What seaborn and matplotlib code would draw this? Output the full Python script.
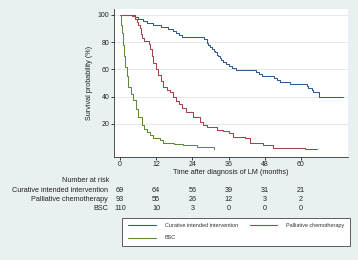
import pandas as pd
import matplotlib.pyplot as plt
import seaborn as sns
from matplotlib.lines import Line2D
from matplotlib.transforms import blended_transform_factory

# Kaplan-Meier steps (months, survival %)
cur_t = [0, 5, 6, 7.5, 9, 11, 13.5, 16, 17.5, 18.5, 19.5, 20.5, 28, 28.8, 29.3, 29.8,
         30.5, 31, 31.5, 32, 32.5, 33, 33.5, 34, 35, 36, 37, 38.5, 45, 46, 47, 51, 52,
         53, 56.5, 62, 62.5, 63.5, 64, 66, 74]
cur_s = [100, 98.6, 97.1, 95.7, 94.2, 92.8, 91.3, 89.9, 88.4, 87, 85.5, 84.1, 82.6,
         79.7, 78.3, 76.8, 75.4, 73.9, 72.5, 71, 69.6, 68.1, 66.7, 65.2, 63.8, 62.3,
         60.9, 59.4, 58, 56.5, 55.1, 53.6, 52.2, 50.7, 49.3, 47.8, 46.4, 44.9, 43.5,
         39.5, 39.5]

pal_t = [0, 4, 5, 5.5, 6, 6.6, 7, 7.3, 8, 9.5, 10, 10.5, 11, 11.8, 12.5, 13.5, 14.4,
         15.5, 16.6, 17.7, 18.5, 19.5, 20.5, 22, 24.3, 26.5, 27.6, 29, 32, 34, 36,
         37.6, 41.4, 43.1, 47.5, 50.8, 61.3, 65.2]
pal_s = [100, 98.9, 96.8, 94.6, 92.5, 90.3, 86, 82.8, 80.6, 78.5, 75.3, 70, 64.5, 60,
         56, 51.6, 47.3, 45, 43.5, 40, 37, 34.5, 32, 29, 25.4, 21.7, 19.3, 18, 15.6,
         14.9, 13.1, 10.7, 9.5, 6.3, 4.6, 2.6, 1.4, 1.4]

bsc_t = [0, 0.3, 0.6, 1, 1.3, 1.7, 2.2, 2.8, 3.5, 4.4, 5.2, 6.1, 7.2, 8, 8.8, 9.8, 11,
         13.3, 14.4, 18, 21, 25.5, 31, 31.2]
bsc_s = [100, 93, 86.5, 78, 70, 62, 55, 47.4, 42, 37.6, 31, 25.4, 19.3, 16.5, 14.4,
         12, 9.5, 8.3, 6.3, 5.5, 4.6, 3.3, 1.8, 1.8]

groups = ['Curative intended intervention', 'Palliative chemotherapy', 'BSC']
colors = ['#2f5c8c', '#a3444b', '#5f8a38']

risk_times = [0, 12, 24, 36, 48, 60]
risk_cur = [69, 64, 56, 39, 31, 21]
risk_pal = [93, 55, 26, 12, 3, 2]
risk_bsc = [110, 10, 3, 0, 0, 0]

df = pd.concat([
    pd.DataFrame({'month': cur_t, 'surv': cur_s, 'group': groups[0]}),
    pd.DataFrame({'month': pal_t, 'surv': pal_s, 'group': groups[1]}),
    pd.DataFrame({'month': bsc_t, 'surv': bsc_s, 'group': groups[2]}),
])

sns.set_style('white')
plt.rcParams['font.family'] = ['Liberation Sans', 'DejaVu Sans']

bg = '#e9f0f2'
W, H = 358, 260
fig = plt.figure(figsize=(W / 100, H / 100), dpi=100, facecolor=bg)
ax = fig.add_axes([114.3 / W, 1 - 156.7 / H, 233.4 / W, 147.7 / H])
ax.set_facecolor('white')

sns.lineplot(data=df, x='month', y='surv', hue='group', hue_order=groups,
             palette=colors, drawstyle='steps-post', estimator=None,
             linewidth=0.75, legend=False, ax=ax)

ax.set_xlim(-1.9, 75.5)
ax.set_ylim(-4.0, 104.4)
ax.set_xticks(risk_times)
ax.set_yticks([20, 40, 60, 80, 100])
ax.grid(axis='y', color='#e2eaed', linewidth=0.7)
ax.grid(axis='x', visible=False)
for s in ['top', 'right']:
    ax.spines[s].set_visible(False)
for s in ['left', 'bottom']:
    ax.spines[s].set_color('#333333')
    ax.spines[s].set_linewidth(0.6)
ax.tick_params(axis='both', labelsize=5, length=2.2, width=0.6, pad=1.2,
               colors='#222222', bottom=True, left=True)

ax.set_xlabel('Time after diagnosis of LM (months)', fontsize=5.2, color='#222222')
ax.set_ylabel('Survival probability (%)', fontsize=5.2, color='#222222')
ax.xaxis.set_label_coords(0.5, -0.085)
ax.yaxis.set_label_coords(-0.09, 0.5)

# number at risk table
fig.text(86 / W, 1 - 180.7 / H, 'Number at risk', fontsize=5.2, ha='center',
         va='center', color='#222222')
trans = blended_transform_factory(ax.transData, fig.transFigure)
rows = [risk_cur, risk_pal, risk_bsc]
row_y = [191, 199.8, 208.6]
for g, vals, y in zip(groups, rows, row_y):
    fig.text(108 / W, 1 - y / H, g, fontsize=5.2, ha='right', va='center',
             color='#222222')
    for t, n in zip(risk_times, vals):
        ax.text(t, 1 - y / H, str(n), transform=trans, fontsize=5.2, ha='center',
                va='center', color='#222222', clip_on=False)

handles = [Line2D([], [], color=colors[0], lw=0.8),
           Line2D([], [], color=colors[2], lw=0.8),
           Line2D([], [], color=colors[1], lw=0.8)]
labels = [groups[0], groups[2], groups[1]]
leg = fig.legend(handles, labels, loc='upper left',
                 bbox_to_anchor=(122.3 / W, 1 - 217.7 / H - 0.01, (350 - 122.3) / W, 0.01),
                 mode='expand', ncol=2, fontsize=4, frameon=True, fancybox=False,
                 borderaxespad=0, borderpad=1.0, handlelength=5.0, handletextpad=1.6,
                 labelspacing=1.3, columnspacing=3.0, labelcolor='#333333')
leg.get_frame().set_edgecolor('#444444')
leg.get_frame().set_linewidth(0.6)
leg.get_frame().set_facecolor('white')
leg.get_frame().set_alpha(1)

fig.savefig('out.png', dpi=100, facecolor=bg)
